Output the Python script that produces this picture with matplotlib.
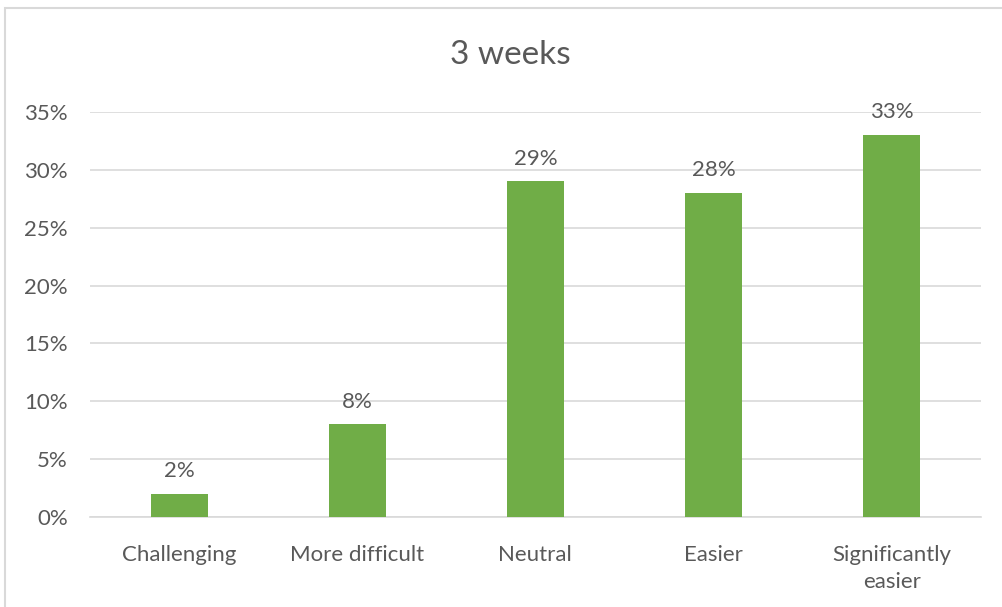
import matplotlib.pyplot as plt
from matplotlib.patches import Rectangle

categories = ['Challenging', 'More difficult', 'Neutral', 'Easier', 'Significantly\neasier']
values = [2, 8, 29, 28, 33]
title = '3 weeks'

green = '#70AD47'
text_gray = '#595959'
grid_gray = '#D9D9D9'

plt.rcParams['font.family'] = ['Lato', 'DejaVu Sans']

fig = plt.figure(figsize=(10.02, 6.07), dpi=100)
ax = fig.add_axes([0.0898, 0.1483, 0.889, 0.6672])

# chart border (only top and left visible in the reference)
fig.patches.append(Rectangle((5 / 1002, -0.05), 1.1, 1 - 8 / 607 + 0.05,
                             transform=fig.transFigure, fill=False,
                             edgecolor=grid_gray, linewidth=1.5))

x = range(len(categories))
bars = ax.bar(x, values, width=0.32, color=green, zorder=3)
for xi, v in zip(x, values):
    ax.text(xi, v + 1.1, '{}%'.format(v), ha='center', va='bottom',
            fontsize=16, color=text_gray)

ax.set_xlim(-0.5, len(categories) - 0.5)
ax.set_ylim(0, 35)
ax.set_yticks(range(0, 36, 5))
ax.set_yticklabels(['{}%'.format(t) for t in range(0, 36, 5)])
ax.set_xticks(list(x))
ax.set_xticklabels(categories, linespacing=1.45)
ax.tick_params(axis='both', length=0, labelsize=16, labelcolor=text_gray)
ax.tick_params(axis='y', pad=16)
ax.tick_params(axis='x', pad=20)
ax.grid(axis='y', color=grid_gray, linewidth=1.2, zorder=0)
for s in ['top', 'right', 'left']:
    ax.spines[s].set_visible(False)
ax.spines['bottom'].set_color(grid_gray)
ax.spines['bottom'].set_linewidth(1.2)

fig.text(0.509, 1 - 55 / 607, title, ha='center', va='center',
         fontsize=24, color=text_gray)

fig.savefig('out.png', dpi=100)
